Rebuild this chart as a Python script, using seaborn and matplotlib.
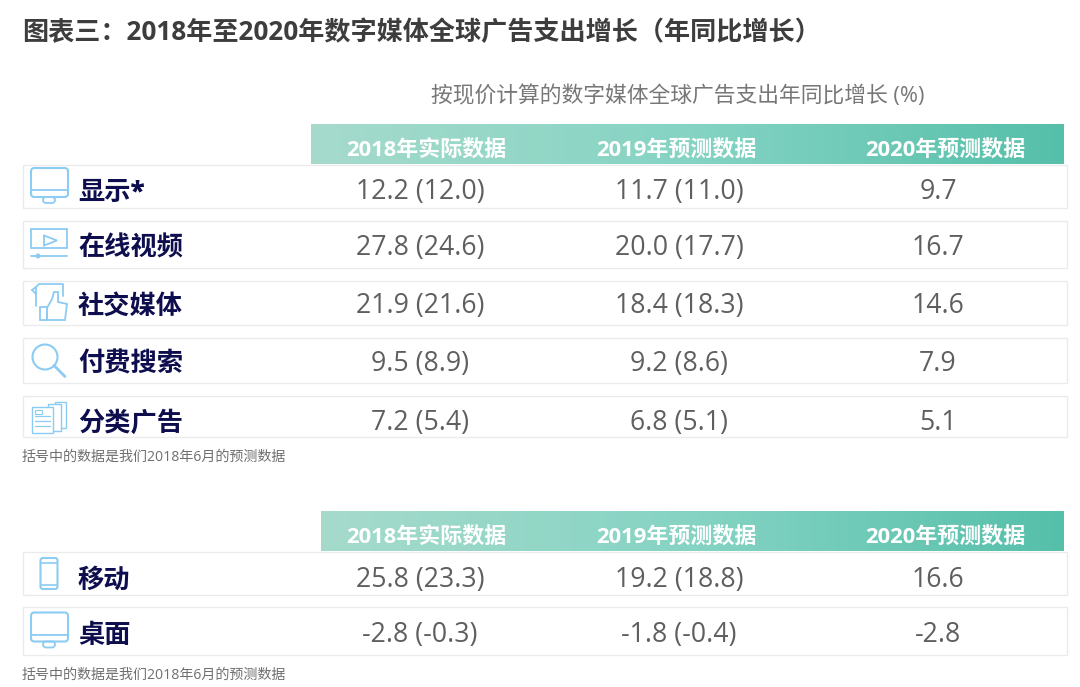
import numpy as np
import matplotlib
matplotlib.use("Agg")
import matplotlib.pyplot as plt
from matplotlib.colors import LinearSegmentedColormap
from matplotlib.patches import Rectangle, FancyBboxPatch, Circle, Polygon
import seaborn as sns

sns.set_theme(style="white")
plt.rcParams["font.family"] = ["Open Sans", "Noto Sans CJK SC", "DejaVu Sans"]

# data
title = "图表三：2018年至2020年数字媒体全球广告支出增长（年同比增长）"
subtitle = "按现价计算的数字媒体全球广告支出年同比增长 (%)"
note = "括号中的数据是我们2018年6月的预测数据"
headers = ["2018年实际数据", "2019年预测数据", "2020年预测数据"]

format_labels = ["显示*", "在线视频", "社交媒体", "付费搜索", "分类广告"]
format_2018 = ["12.2 (12.0)", "27.8 (24.6)", "21.9 (21.6)", "9.5 (8.9)", "7.2 (5.4)"]
format_2019 = ["11.7 (11.0)", "20.0 (17.7)", "18.4 (18.3)", "9.2 (8.6)", "6.8 (5.1)"]
format_2020 = ["9.7", "16.7", "14.6", "7.9", "5.1"]

device_labels = ["移动", "桌面"]
device_2018 = ["25.8 (23.3)", "-2.8 (-0.3)"]
device_2019 = ["19.2 (18.8)", "-1.8 (-0.4)"]
device_2020 = ["16.6", "-2.8"]

# layout in pixels: row box top, bottom, and the y of the row text
W, H = 1080, 687
ROWS_TOP = [(165, 208, 192), (221, 268, 248), (281, 325, 306), (338, 383, 364), (396, 437, 423)]
ROWS_BOTTOM = [(552, 595, 580), (607, 655, 635)]
ICON_BLUE = "#8ccbf2"
NAVY = "#0e0e4f"
GREY = "#5f5f5f"
NOTE_GREY = "#6f6f6f"

green_map = LinearSegmentedColormap.from_list("hdr", ["#a5dacb", "#85d3c3", "#55bfa9"])

fig = plt.figure(figsize=(W / 100, H / 100), dpi=100)
ax = fig.add_axes([0, 0, 1, 1])
ax.set_xlim(0, W)
ax.set_ylim(H, 0)
ax.axis("off")


def px_axes(x0, y0, x1, y1):
    return fig.add_axes([x0 / W, 1 - y1 / H, (x1 - x0) / W, (y1 - y0) / H])


def header_band(x0, y0, x1, y1):
    band = px_axes(x0, y0, x1, y1)
    sns.heatmap(np.linspace(0, 1, 256).reshape(1, -1), cmap=green_map, cbar=False,
                xticklabels=False, yticklabels=False, ax=band)
    band.set_zorder(0)


def icon_screen(cx, cy):
    cy = cy + 1.5
    ax.add_patch(FancyBboxPatch((cx - 18, cy - 20), 37, 29, boxstyle="round,pad=0,rounding_size=3.5",
                                fc="none", ec=ICON_BLUE, lw=1.5))
    ax.plot([cx - 18, cx + 19], [cy + 2, cy + 2], color=ICON_BLUE, lw=1.3)
    ax.add_patch(FancyBboxPatch((cx - 6, cy + 9), 12, 6, boxstyle="round,pad=0,rounding_size=3",
                                fc="none", ec=ICON_BLUE, lw=1.3))


def icon_video(cx, cy):
    ax.add_patch(Rectangle((cx - 18, cy - 15.5), 36, 19, fc="none", ec=ICON_BLUE, lw=1.3))
    ax.add_patch(Polygon([(cx - 5, cy - 9), (cx - 5, cy + 1), (cx + 8, cy - 4)], fc="none", ec=ICON_BLUE, lw=1.3))
    ax.plot([cx - 18, cx + 18], [cy + 11.5, cy + 11.5], color=ICON_BLUE, lw=1.3)
    ax.add_patch(Circle((cx - 11, cy + 11.5), 2.5, fc=ICON_BLUE, ec="none"))


def icon_thumb(cx, cy):
    ax.plot([cx - 13, cx - 13, cx - 10, cx + 14, cx + 14], [cy + 3, cy - 16, cy - 19, cy - 19, cy - 7],
            color=ICON_BLUE, lw=1.3)
    ax.plot([cx - 17, cx - 13], [cy - 13, cy - 16], color=ICON_BLUE, lw=1.3)
    ax.plot([cx - 17, cx - 13], [cy - 13, cy - 9], color=ICON_BLUE, lw=1.3)
    ax.add_patch(Rectangle((cx - 9, cy + 4), 7, 13, fc="none", ec=ICON_BLUE, lw=1.3))
    ax.add_patch(Polygon([(cx - 2, cy + 5), (cx + 3, cy - 4), (cx + 5, cy - 11), (cx + 9, cy - 11),
                          (cx + 9, cy - 1), (cx + 18, cy + 1), (cx + 16, cy + 17), (cx - 2, cy + 17)],
                         fc="none", ec=ICON_BLUE, lw=1.3))


def icon_search(cx, cy):
    ax.add_patch(Circle((cx - 4, cy - 3.5), 12.5, fc="none", ec=ICON_BLUE, lw=1.5))
    ax.plot([cx + 5, cx + 16], [cy + 5, cy + 16], color=ICON_BLUE, lw=2)


def icon_docs(cx, cy):
    for dx, dy, w, h in [(6, -15, 11, 26), (-1, -13, 13, 27), (-17, -10, 21, 26)]:
        ax.add_patch(Rectangle((cx + dx, cy + dy), w, h, fc="white", ec=ICON_BLUE, lw=1))
    for dy in [-1, 4, 9]:
        ax.plot([cx - 14, cx + 1], [cy + dy, cy + dy], color=ICON_BLUE, lw=0.9)
    ax.add_patch(Rectangle((cx - 14, cy - 7), 7, 4, fc="none", ec=ICON_BLUE, lw=0.8))


def icon_phone(cx, cy):
    ax.add_patch(FancyBboxPatch((cx - 8.5, cy - 15.5), 17, 31, boxstyle="round,pad=0,rounding_size=2.5",
                                fc="none", ec=ICON_BLUE, lw=1.5))
    ax.plot([cx - 8, cx + 8], [cy - 11, cy - 11], color=ICON_BLUE, lw=1.2)
    ax.plot([cx - 8, cx + 8], [cy + 11, cy + 11], color=ICON_BLUE, lw=1.2)


def draw_rows(rows, labels, col_a, col_b, col_c, icons, icon_x):
    for (y0, y1, ty), label, a, b, c, icon in zip(rows, labels, col_a, col_b, col_c, icons):
        ax.add_patch(Rectangle((23, y0), 1044, y1 - y0, fc="white", ec="#ebebeb", lw=1.0))
        icon(icon_x, (y0 + y1) / 2)
        ax.text(78, ty + 1, label, fontsize=18.9, fontweight="black", color=NAVY, va="center")
        ax.text(420, ty, a, fontsize=19.2, color=GREY, ha="center", va="center")
        ax.text(679, ty, b, fontsize=19.2, color=GREY, ha="center", va="center")
        ax.text(938, ty, c, fontsize=19.2, color=GREY, ha="center", va="center")


def draw_headers(y):
    for x, text in zip([426, 676, 945], headers):
        hdr.text(x, y, text, fontsize=15.8, fontweight="bold", color="white", ha="center", va="center")


ax.text(22, 33, title, fontsize=18.8, fontweight="bold", color="#3d3d3d", va="center")
ax.text(431, 96, subtitle, fontsize=15.7, color="#777777", va="center")

header_band(311, 124, 1064, 164)
header_band(321, 511, 1064, 551)

# text layer above the gradient bands
hdr = fig.add_axes([0, 0, 1, 1], facecolor="none")
hdr.set_xlim(0, W)
hdr.set_ylim(H, 0)
hdr.axis("off")
hdr.set_zorder(5)
draw_headers(151)
draw_headers(538)

draw_rows(ROWS_TOP, format_labels, format_2018, format_2019, format_2020,
          [icon_screen, icon_video, icon_thumb, icon_search, icon_docs], 49)
draw_rows(ROWS_BOTTOM, device_labels, device_2018, device_2019, device_2020,
          [icon_phone, icon_screen], 49)

ax.text(22, 457, note, fontsize=10.1, color=NOTE_GREY, va="center")
ax.text(22, 675, note, fontsize=10.1, color=NOTE_GREY, va="center")

fig.savefig("out.png", dpi=100, facecolor="white")
